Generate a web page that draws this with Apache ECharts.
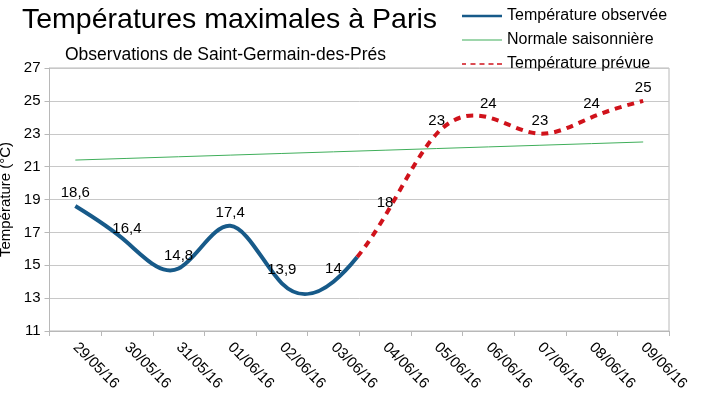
<!DOCTYPE html>
<html>
<head>
<meta charset="utf-8">
<script src="https://cdn.jsdelivr.net/npm/echarts@6/dist/echarts.min.js"></script>
<style>
  html, body { margin: 0; padding: 0; background: #fff; }
  #chart { width: 701px; height: 399px; }
</style>
</head>
<body>
<div id="chart"></div>
<script>
// dates on the x axis
var categories = ['29/05/16', '30/05/16', '31/05/16', '01/06/16', '02/06/16', '03/06/16',
                  '04/06/16', '05/06/16', '06/06/16', '07/06/16', '08/06/16', '09/06/16'];

// observed temperatures, 29/05 -> 03/06
var observedY = [18.6, 16.4, 14.8, 17.4, 13.9, 14];

// seasonal normal
var normalY = [21.4, 21.5, 21.6, 21.7, 21.8, 21.9, 22.0, 22.1, 22.2, 22.3, 22.4, 22.5];

// forecast, 04/06 -> 09/06
var forecastY = [18, 23, 24, 23, 24, 25];

// y axis ticks
var yMin = 11, yMax = 27, yStep = 2;

// where the solid curve hands over to the dashed one (fraction of the 03/06 -> 04/06 step)
var handover = 0.46;

var font = 'Liberation Sans, Arial, sans-serif';
var allY = observedY.concat(forecastY);

// natural cubic spline through pixel points -> list of bezier segments
function splineSegments(P) {
    var n = P.length, h = [], M = new Array(n).fill(0);
    for (var i = 0; i < n - 1; i++) h.push(P[i + 1][0] - P[i][0]);
    // tridiagonal solve for second derivatives
    var a = [], b = [], c = [], d = [];
    for (var i = 1; i < n - 1; i++) {
        a.push(h[i - 1]); b.push(2 * (h[i - 1] + h[i])); c.push(h[i]);
        d.push(6 * ((P[i + 1][1] - P[i][1]) / h[i] - (P[i][1] - P[i - 1][1]) / h[i - 1]));
    }
    var m = b.length;
    for (var i = 1; i < m; i++) {
        var w = a[i] / b[i - 1];
        b[i] -= w * c[i - 1];
        d[i] -= w * d[i - 1];
    }
    var sol = new Array(m);
    for (var i = m - 1; i >= 0; i--) sol[i] = (d[i] - (i < m - 1 ? c[i] * sol[i + 1] : 0)) / b[i];
    for (var i = 0; i < m; i++) M[i + 1] = sol[i];
    var segs = [];
    for (var i = 0; i < n - 1; i++) {
        var s = (P[i + 1][1] - P[i][1]) / h[i];
        var d0 = s - h[i] * (2 * M[i] + M[i + 1]) / 6;
        var d1 = s + h[i] * (M[i] + 2 * M[i + 1]) / 6;
        segs.push([P[i], [P[i][0] + h[i] / 3, P[i][1] + d0 * h[i] / 3],
                   [P[i + 1][0] - h[i] / 3, P[i + 1][1] - d1 * h[i] / 3], P[i + 1]]);
    }
    return segs;
}

function lerp(p, q, t) { return [p[0] + (q[0] - p[0]) * t, p[1] + (q[1] - p[1]) * t]; }

// de Casteljau split of one bezier segment
function splitSeg(s, t) {
    var p01 = lerp(s[0], s[1], t), p12 = lerp(s[1], s[2], t), p23 = lerp(s[2], s[3], t);
    var p012 = lerp(p01, p12, t), p123 = lerp(p12, p23, t), mid = lerp(p012, p123, t);
    return [[s[0], p01, p012, mid], [mid, p123, p23, s[3]]];
}

function toPath(segs) {
    var str = 'M' + segs[0][0][0] + ',' + segs[0][0][1];
    segs.forEach(function (s) {
        str += 'C' + s[1][0] + ',' + s[1][1] + ' ' + s[2][0] + ',' + s[2][1] + ' ' + s[3][0] + ',' + s[3][1];
    });
    return str;
}

function curveSeries(name, offset, values, color, dash, part, z) {
    return {
        name: name,
        type: 'custom',
        data: values.map(function (v, i) { return [offset + i, v]; }),
        encode: { x: 0, y: 1 },
        itemStyle: { color: color, borderWidth: 0 },
        z: z,
        silent: true,
        renderItem: function (params, api) {
            var children = [];
            if (params.dataIndex === 0) {
                var P = allY.map(function (v, i) { return api.coord([i, v]); });
                var segs = splineSegments(P);
                var k = observedY.length - 1;
                var halves = splitSeg(segs[k], handover);
                var mine = part === 0 ? segs.slice(0, k).concat([halves[0]])
                                      : [halves[1]].concat(segs.slice(k + 1));
                children.push({
                    type: 'path',
                    shape: { pathData: toPath(mine) },
                    style: { stroke: color, lineWidth: 4, fill: 'none', lineDash: dash, lineCap: 'butt' }
                });
            }
            var c = api.coord([api.value(0), api.value(1)]);
            children.push({
                type: 'text',
                x: c[0], y: c[1] - 13,
                z2: 10,
                style: {
                    text: String(api.value(1)).replace('.', ','),
                    font: '15px ' + font, fill: '#000',
                    align: 'center', verticalAlign: 'middle'
                }
            });
            return { type: 'group', children: children };
        }
    };
}

var chart = echarts.init(document.getElementById('chart'));

chart.setOption({
    animation: false,
    textStyle: { fontFamily: font },
    title: [{
        text: 'Températures maximales à Paris',
        left: 17, top: 1,
        textStyle: { fontFamily: font, fontSize: 28.5, fontWeight: 'normal', color: '#000' }
    }, {
        text: 'Observations de Saint-Germain-des-Prés',
        left: 60, top: 41,
        textStyle: { fontFamily: font, fontSize: 17.5, fontWeight: 'normal', color: '#000' }
    }],
    legend: {
        orient: 'vertical',
        left: 457, top: 3,
        itemWidth: 40, itemHeight: 14, itemGap: 8,
        symbolKeepAspect: true,
        itemStyle: { borderWidth: 0 },
        textStyle: { fontFamily: font, fontSize: 16, color: '#000' },
        data: [
            { name: 'Température observée', icon: 'path://M0,0h40v2.5h-40z' },
            { name: 'Normale saisonnière', icon: 'path://M0,0h40v1h-40z' },
            { name: 'Température prévue', icon: 'path://M0,0h4v1.6h-4z M8.5,0h5v1.6h-5z M17.5,0h5v1.6h-5z M26.5,0h5v1.6h-5z M35,0h5v1.6h-5z' }
        ]
    },
    grid: {
        left: 49.5, right: 32, top: 68, bottom: 68,
        outerBoundsMode: 'none',
        containLabel: false,
        show: true, borderColor: '#b8b8b8', borderWidth: 1
    },
    xAxis: {
        type: 'category',
        data: categories,
        boundaryGap: true,
        axisLine: { onZero: false, lineStyle: { color: '#b8b8b8' } },
        axisTick: { show: true, length: 5, lineStyle: { color: '#b8b8b8' } },
        axisLabel: { rotate: -45, fontSize: 15, color: '#000', margin: 14, fontFamily: font }
    },
    yAxis: {
        type: 'value',
        min: yMin, max: yMax, interval: yStep,
        name: 'Température (°C)',
        nameLocation: 'middle',
        nameGap: 28,
        nameTextStyle: { fontFamily: font, fontSize: 15, color: '#000' },
        axisLine: { show: true, onZero: false, lineStyle: { color: '#b8b8b8' } },
        axisTick: { show: true, length: 5, lineStyle: { color: '#b8b8b8' } },
        axisLabel: { fontSize: 15, color: '#000', margin: 9, fontFamily: font },
        splitLine: { lineStyle: { color: '#c8c8c8' } }
    },
    series: [
        curveSeries('Température observée', 0, observedY, '#175a89', null, 0, 3),
        {
            name: 'Normale saisonnière',
            type: 'line',
            data: normalY,
            symbol: 'none',
            lineStyle: { color: '#3fae5a', width: 1 },
            itemStyle: { color: '#3fae5a' },
            z: 2
        },
        curveSeries('Température prévue', observedY.length, forecastY, '#d0121b', [7, 6], 1, 4)
    ]
});
</script>
</body>
</html>
